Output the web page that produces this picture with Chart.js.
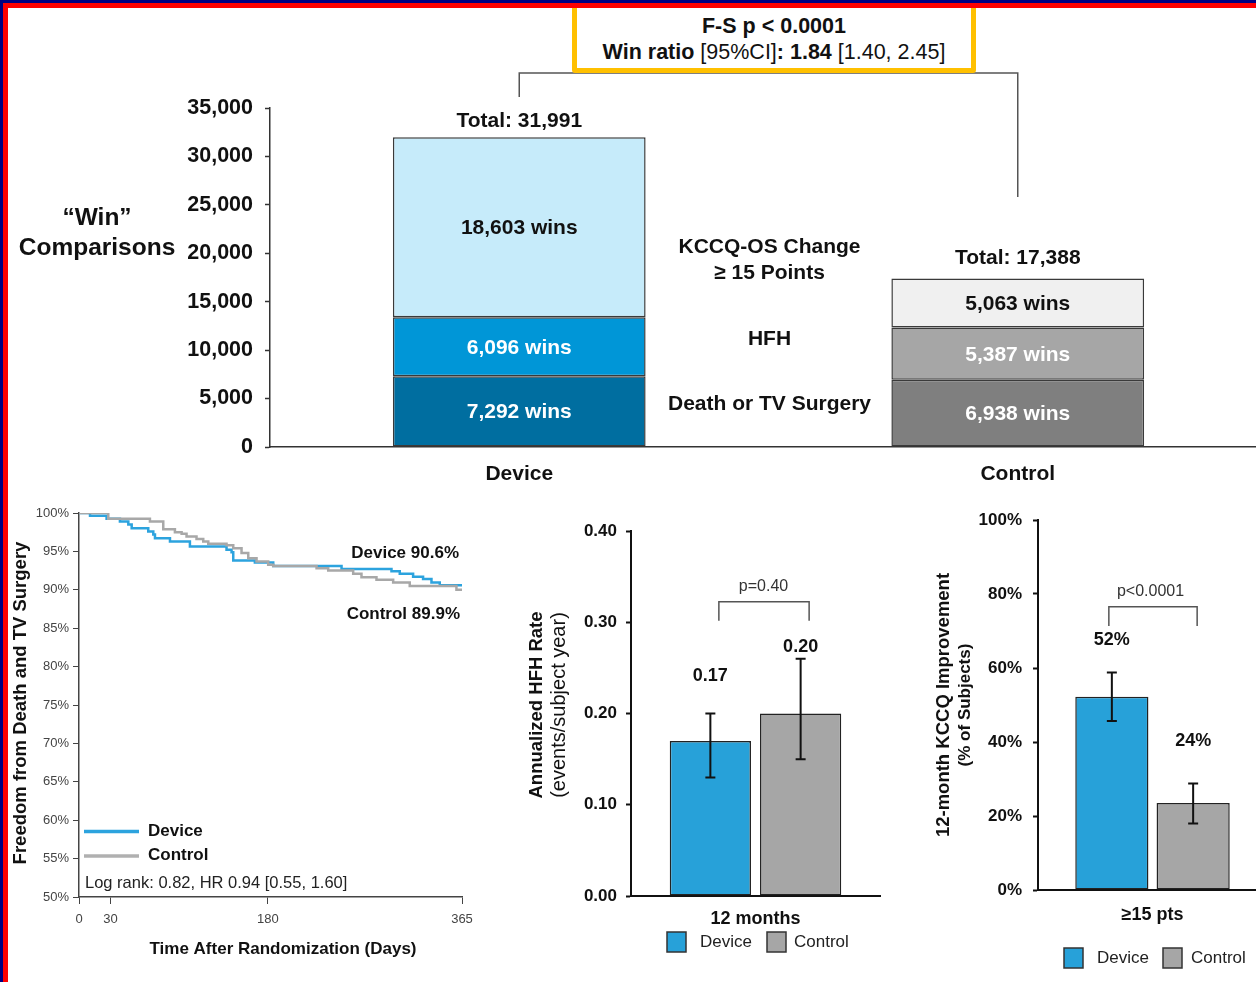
<!DOCTYPE html>
<html>
<head>
<meta charset="utf-8">
<script src="https://cdn.jsdelivr.net/npm/chart.js@4.4.1/dist/chart.umd.min.js"></script>
<style>
html, body { margin: 0; padding: 0; background: #fff; overflow: hidden; width: 1256px; height: 982px; }
body { position: relative; font-family: "Liberation Sans", Arial, sans-serif; }
canvas { position: absolute; }
.frame { position: absolute; z-index: 10; }
#box { position: absolute; left: 572px; top: 3px; width: 404px; height: 70px; box-sizing: border-box;
       border: 5px solid #FFC000; border-radius: 3px; background: #fff; color: #111;
       text-align: center; font-size: 21.5px; z-index: 5; }
#box div { position: absolute; left: 0; right: 0; line-height: 24px; white-space: nowrap; }
</style>
</head>
<body>
<canvas id="wins" width="1280" height="490" style="left:0;top:0"></canvas>
<canvas id="km" width="490" height="492" style="left:0;top:490px"></canvas>
<canvas id="hfh" width="400" height="492" style="left:500px;top:490px"></canvas>
<canvas id="kccq" width="380" height="492" style="left:900px;top:490px"></canvas>

<div id="box">
  <div style="top:6px"><b>F-S p &lt; 0.0001</b></div>
  <div style="top:32px"><b>Win ratio</b> [95%CI]<b>: 1.84</b> [1.40, 2.45]</div>
</div>

<div class="frame" style="left:0;top:0;width:1256px;height:3px;background:#000080"></div>
<div class="frame" style="left:0;top:0;width:3px;height:982px;background:#000080"></div>
<div class="frame" style="left:3px;top:3px;width:1253px;height:5px;background:#ff0000"></div>
<div class="frame" style="left:3px;top:3px;width:5px;height:979px;background:#ff0000"></div>

<script>
// ---- win ratio (hierarchical composite) ----
const arms = ['Device', 'Control'];
const tiers = ['Death or TV Surgery', 'HFH', 'KCCQ-OS Change ≥ 15 Points'];
const deviceWins = [7292, 6096, 18603];
const controlWins = [6938, 5387, 5063];
const winTicks = [0, 5000, 10000, 15000, 20000, 25000, 30000, 35000];

// ---- Kaplan-Meier, freedom from death and TV surgery ----
const kmDeviceDays = [0, 10.5, 26.3, 39, 47, 50.2, 66, 70.8, 72.4, 86.7, 105.7, 140.6, 145.4, 147, 167.6, 185.1, 250.2, 297.8, 305.7, 318.4, 327.9, 335.9, 343.8, 365];
const kmDevicePct = [100, 99.65, 99.26, 98.9, 98.5, 98.0, 97.6, 97.2, 96.7, 96.3, 95.65, 95.2, 94.9, 93.8, 93.55, 93.1, 92.7, 92.4, 92.1, 91.7, 91.4, 90.95, 90.6, 90.6];
const kmControlDays = [0, 27.9, 67.6, 80.3, 91.4, 97.8, 102.5, 112, 118.4, 123.2, 140.6, 147, 154.9, 161.3, 169.2, 180.3, 185.1, 226.4, 237.5, 261.3, 269.2, 283.5, 299.4, 315.2, 359.7, 365];
const kmControlPct = [100, 99.26, 98.9, 97.9, 97.5, 97.3, 96.95, 96.6, 96.3, 96.0, 95.8, 95.4, 94.8, 94.1, 93.7, 93.25, 93.1, 92.8, 92.5, 92.1, 91.65, 91.3, 90.95, 90.5, 90.0, 89.9];
const kmDayTicks = [0, 30, 180, 365];

// ---- annualized HFH rate ----
const hfhCategory = ['12 months'];
const hfhDevice = [0.17];
const hfhControl = [0.20];
const hfhDeviceCI = [0.13, 0.20];
const hfhControlCI = [0.15, 0.26];

// ---- KCCQ improvement >= 15 pts ----
const kccqCategory = ['≥15 pts'];
const kccqDevice = [52.2];
const kccqControl = [23.5];
const kccqDeviceCI = [45.7, 58.8];
const kccqControlCI = [18.0, 28.8];

const FONT = '"Liberation Sans", Arial, sans-serif';
Chart.defaults.font.family = FONT;
Chart.defaults.color = '#111';

const BLUE = '#27A1D9';
const GREY = '#A6A6A6';

function txt(ctx, s, x, y, font, color, align) {
    ctx.save();
    ctx.font = font + ' ' + FONT;
    ctx.fillStyle = color || '#111';
    ctx.textAlign = align || 'center';
    ctx.textBaseline = 'middle';
    ctx.fillText(s, x, y);
    ctx.restore();
}

function vtxt(ctx, s, x, y, font, color) {
    ctx.save();
    ctx.translate(x, y);
    ctx.rotate(-Math.PI / 2);
    txt(ctx, s, 0, 0, font, color);
    ctx.restore();
}

function bracket(ctx, x1, x2, top, bottom) {
    ctx.save();
    ctx.strokeStyle = '#555';
    ctx.lineWidth = 1.5;
    ctx.beginPath();
    ctx.moveTo(x1, bottom);
    ctx.lineTo(x1, top);
    ctx.lineTo(x2, top);
    ctx.lineTo(x2, bottom);
    ctx.stroke();
    ctx.restore();
}

function fixWidth(w) { return function (scale) { scale.width = w; }; }
function fixHeight(h) { return function (scale) { scale.height = h; }; }

// error bars for the small bar charts
const errorBars = {
    id: 'errorBars',
    afterDatasetsDraw(chart, args, opts) {
        const ctx = chart.ctx, y = chart.scales.y;
        opts.ci.forEach((ci, i) => {
            const bar = chart.getDatasetMeta(i).data[0];
            const lo = y.getPixelForValue(ci[0]), hi = y.getPixelForValue(ci[1]);
            ctx.save();
            ctx.strokeStyle = '#111';
            ctx.lineWidth = 2;
            ctx.beginPath();
            ctx.moveTo(bar.x, lo); ctx.lineTo(bar.x, hi);
            ctx.moveTo(bar.x - 5, lo); ctx.lineTo(bar.x + 5, lo);
            ctx.moveTo(bar.x - 5, hi); ctx.lineTo(bar.x + 5, hi);
            ctx.stroke();
            ctx.restore();
        });
    }
};

// ================= top: win comparisons =================
const devColors = ['#006EA0', '#0096D7', '#C6EBFA'];
const ctlColors = ['#7F7F7F', '#A6A6A6', '#F0F0F0'];

new Chart(document.getElementById('wins'), {
    type: 'bar',
    data: {
        labels: arms,
        datasets: tiers.map((t, i) => ({
            label: t,
            data: [deviceWins[i], controlWins[i]],
            backgroundColor: [devColors[i], ctlColors[i]],
            borderColor: '#3a3a3a',
            borderWidth: 1.5,
            borderSkipped: false,
            barPercentage: 0.507,
            categoryPercentage: 1
        }))
    },
    options: {
        responsive: false,
        animation: false,
        layout: { padding: { top: 108, left: 0, right: 13, bottom: 0 } },
        plugins: { legend: { display: false }, tooltip: { enabled: false } },
        scales: {
            x: {
                stacked: true,
                afterFit: fixHeight(43),
                grid: { display: false },
                border: { color: '#333', width: 1.5 },
                ticks: { padding: 7, color: '#111', font: { size: 21, weight: 'bold' } }
            },
            y: {
                stacked: true,
                min: 0, max: 35000,
                afterFit: fixWidth(270),
                afterBuildTicks: s => { s.ticks = winTicks.map(v => ({ value: v })); },
                grid: { drawOnChartArea: false, tickLength: 5, tickColor: '#333', tickWidth: 1.5 },
                border: { color: '#333', width: 1.5 },
                ticks: {
                    padding: 12, color: '#111', font: { size: 21.5, weight: 'bold' },
                    callback: v => v.toLocaleString('en-US')
                }
            }
        }
    },
    plugins: [{
        id: 'winsDecor',
        afterDatasetsDraw(chart) {
            const ctx = chart.ctx;
            chart.data.datasets.forEach((ds, i) => {
                chart.getDatasetMeta(i).data.forEach((bar, j) => {
                    const light = i === 2;
                    txt(ctx, ds.data[j].toLocaleString('en-US') + ' wins', bar.x, (bar.y + bar.base) / 2 + 1,
                        'bold 21px', light ? '#111' : '#fff');
                });
            });
            const tops = chart.getDatasetMeta(2).data;
            const totals = [deviceWins, controlWins].map(a => a.reduce((s, v) => s + v, 0));
            const gap = [16, 20];
            totals.forEach((t, j) => {
                txt(ctx, 'Total: ' + t.toLocaleString('en-US'), tops[j].x, tops[j].y - gap[j], 'bold 21px');
            });
            const mid = (tops[0].x + tops[1].x) / 2 + 1;
            txt(ctx, 'KCCQ-OS Change', mid, 247, 'bold 21px');
            txt(ctx, '≥ 15 Points', mid, 273, 'bold 21px');
            txt(ctx, 'HFH', mid, 339, 'bold 21px');
            txt(ctx, 'Death or TV Surgery', mid, 404, 'bold 21px');

            // win ratio bracket
            ctx.save();
            ctx.strokeStyle = '#555';
            ctx.lineWidth = 1.5;
            ctx.beginPath();
            ctx.moveTo(tops[0].x, 97);
            ctx.lineTo(tops[0].x, 73);
            ctx.lineTo(tops[1].x, 73);
            ctx.lineTo(tops[1].x, 197);
            ctx.stroke();
            ctx.restore();

            txt(ctx, '\u201CWin\u201D', 97, 218, 'bold 24.5px');
            txt(ctx, 'Comparisons', 97, 248, 'bold 24.5px');
        }
    }]
});

// ================= Kaplan-Meier =================
new Chart(document.getElementById('km'), {
    type: 'line',
    data: {
        datasets: [{
            label: 'Device',
            data: kmDeviceDays.map((d, i) => ({ x: d, y: kmDevicePct[i] })),
            borderColor: '#2CA3DE',
            borderWidth: 2.5,
            stepped: true,
            pointRadius: 0,
            order: 2
        }, {
            label: 'Control',
            data: kmControlDays.map((d, i) => ({ x: d, y: kmControlPct[i] })),
            borderColor: '#A8A8A8',
            borderWidth: 2.5,
            stepped: true,
            pointRadius: 0,
            order: 1
        }]
    },
    options: {
        responsive: false,
        animation: false,
        layout: { padding: { top: 23, left: 0, right: 28, bottom: 0 } },
        plugins: { legend: { display: false }, tooltip: { enabled: false } },
        scales: {
            x: {
                type: 'linear',
                min: 0, max: 365,
                afterFit: fixHeight(85),
                afterBuildTicks: s => { s.ticks = kmDayTicks.map(v => ({ value: v })); },
                grid: { drawOnChartArea: false, tickLength: 7, tickColor: '#444' },
                border: { color: '#444', width: 1.5 },
                ticks: { padding: 8, color: '#444', font: { size: 13 } }
            },
            y: {
                min: 50, max: 100,
                afterFit: fixWidth(79),
                ticks: { stepSize: 5, padding: 4, color: '#444', font: { size: 13 }, callback: v => v + '%' },
                grid: { drawOnChartArea: false, tickLength: 6, tickColor: '#444' },
                border: { color: '#444', width: 1.5 }
            }
        }
    },
    plugins: [{
        id: 'kmDecor',
        afterDatasetsDraw(chart) {
            const ctx = chart.ctx;
            vtxt(ctx, 'Freedom from Death and TV Surgery', 21, 213, 'bold 18.5px');
            txt(ctx, 'Time After Randomization (Days)', 283, 459, 'bold 17px');

            ctx.save();
            ctx.lineWidth = 3.5;
            ctx.strokeStyle = '#2CA3DE';
            ctx.beginPath(); ctx.moveTo(84, 341.5); ctx.lineTo(139, 341.5); ctx.stroke();
            ctx.strokeStyle = '#B0B0B0';
            ctx.beginPath(); ctx.moveTo(84, 366); ctx.lineTo(139, 366); ctx.stroke();
            ctx.restore();
            txt(ctx, 'Device', 148, 341, 'bold 17px', '#111', 'left');
            txt(ctx, 'Control', 148, 365.5, 'bold 17px', '#111', 'left');
            txt(ctx, 'Log rank: 0.82, HR 0.94 [0.55, 1.60]', 85, 393, '16.5px', '#222', 'left');

            const devEnd = kmDevicePct[kmDevicePct.length - 1];
            const ctlEnd = kmControlPct[kmControlPct.length - 1];
            txt(ctx, 'Device ' + devEnd.toFixed(1) + '%', 459, 63, 'bold 17px', '#111', 'right');
            txt(ctx, 'Control ' + ctlEnd.toFixed(1) + '%', 460, 124, 'bold 17px', '#111', 'right');
        }
    }]
});

// ================= small grouped bar charts =================
function smallBars(id, cats, dev, ctl, devCI, ctlCI, cfg) {
    new Chart(document.getElementById(id), {
        type: 'bar',
        data: {
            labels: cats,
            datasets: [
                { label: 'Device', data: dev, backgroundColor: BLUE },
                { label: 'Control', data: ctl, backgroundColor: GREY }
            ].map(d => Object.assign(d, {
                borderColor: '#222', borderWidth: 1.5, borderSkipped: false,
                barPercentage: 0.9, categoryPercentage: cfg.catPct
            }))
        },
        options: {
            responsive: false,
            animation: false,
            layout: { padding: cfg.padding },
            plugins: {
                legend: { display: false },
                tooltip: { enabled: false },
                errorBars: { ci: [devCI, ctlCI] }
            },
            scales: {
                x: {
                    afterFit: fixHeight(cfg.xHeight),
                    grid: { display: false },
                    border: { color: '#111', width: 2 },
                    ticks: { padding: cfg.xPad, color: '#111', font: { size: 18, weight: 'bold' } }
                },
                y: {
                    min: cfg.min, max: cfg.max,
                    afterFit: fixWidth(cfg.yWidth),
                    ticks: { stepSize: cfg.step, padding: cfg.yPad, color: '#111', font: { size: 17, weight: 'bold' }, callback: cfg.fmt },
                    grid: { drawOnChartArea: false, tickLength: 5, tickColor: '#111', tickWidth: 2 },
                    border: { color: '#111', width: 2 }
                }
            }
        },
        plugins: [errorBars, {
            id: id + 'Decor',
            afterDatasetsDraw(chart) {
                const ctx = chart.ctx;
                const d = chart.getDatasetMeta(0).data[0], c = chart.getDatasetMeta(1).data[0];
                txt(ctx, cfg.label(dev[0]), d.x, d.y - cfg.lblOff[0], 'bold 18px');
                txt(ctx, cfg.label(ctl[0]), c.x, c.y - cfg.lblOff[1], 'bold 18px');

                bracket(ctx, d.x + cfg.brX[0], c.x + cfg.brX[1], cfg.brY[0], cfg.brY[1]);
                txt(ctx, cfg.p, (d.x + c.x) / 2 + cfg.pX, cfg.brY[0] - 15, '16px', '#333');

                vtxt(ctx, cfg.title[0], cfg.titleX[0], cfg.titleY, cfg.titleFont[0]);
                vtxt(ctx, cfg.title[1], cfg.titleX[1], cfg.titleY, cfg.titleFont[1]);

                const lg = cfg.legend;
                [[BLUE, 'Device', lg[0], lg[1]], [GREY, 'Control', lg[2], lg[3]]].forEach(([col, name, sx, tx]) => {
                    ctx.save();
                    ctx.fillStyle = col;
                    ctx.strokeStyle = '#333';
                    ctx.lineWidth = 1.5;
                    ctx.fillRect(sx, lg[4] - 10, 19, 20);
                    ctx.strokeRect(sx, lg[4] - 10, 19, 20);
                    ctx.restore();
                    txt(ctx, name, tx, lg[4], '17px', '#222', 'left');
                });
            }
        }]
    });
}

smallBars('hfh', hfhCategory, hfhDevice, hfhControl, hfhDeviceCI, hfhControlCI, {
    padding: { top: 41, left: 0, right: 20, bottom: 0 },
    catPct: 0.725, xHeight: 86, xPad: 4, yWidth: 131, yPad: 9,
    min: 0, max: 0.4, step: 0.1, fmt: v => v.toFixed(2),
    label: v => v.toFixed(2), lblOff: [65, 66],
    brX: [8.5, 8.5], brY: [111.7, 130.7], p: 'p=0.40', pX: 8,
    title: ['Annualized HFH Rate', '(events/subject year)'], titleX: [37, 59], titleY: 215,
    titleFont: ['bold 18.5px', '20px'],
    legend: [167, 200, 267, 294, 452]
});

smallBars('kccq', kccqCategory, kccqDevice, kccqControl, kccqDeviceCI, kccqControlCI, {
    padding: { top: 30, left: 0, right: 13, bottom: 0 },
    catPct: 0.71, xHeight: 92, xPad: 6, yWidth: 138, yPad: 11,
    min: 0, max: 100, step: 20, fmt: v => v + '%',
    label: v => Math.round(v) + '%', lblOff: [57, 62],
    brX: [-3, 4], brY: [116.7, 136], p: 'p<0.0001', pX: -2,
    title: ['12-month KCCQ Improvement', '(% of Subjects)'], titleX: [44, 65], titleY: 215,
    titleFont: ['bold 18.5px', 'bold 17px'],
    legend: [164, 197, 263, 291, 468]
});
</script>
</body>
</html>
